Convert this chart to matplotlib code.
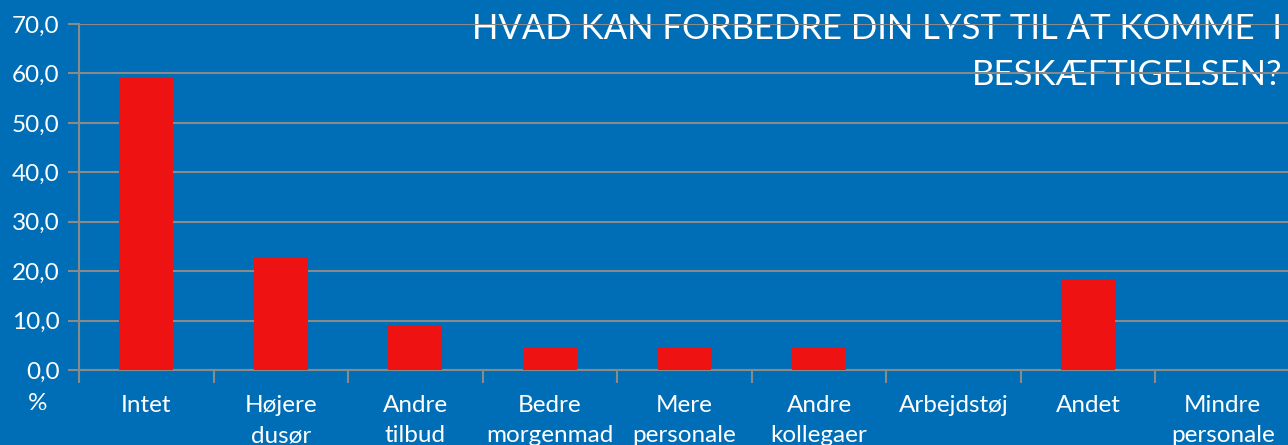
import matplotlib
matplotlib.use("Agg")
import matplotlib.pyplot as plt
import numpy as np

# Survey answers: what would improve motivation to come to work
categories = ["Intet", "Højere\ndusør", "Andre\ntilbud", "Bedre\nmorgenmad",
              "Mere\npersonale", "Andre\nkollegaer", "Arbejdstøj", "Andet",
              "Mindre\npersonale"]
percent = [59.1, 22.7, 9.1, 4.5, 4.5, 4.5, 0.0, 18.2, 0.0]
y_ticks = [0, 10, 20, 30, 40, 50, 60, 70]
y_tick_labels = ["0,0", "10,0", "20,0", "30,0", "40,0", "50,0", "60,0", "70,0"]
title = "HVAD KAN FORBEDRE DIN LYST TIL AT KOMME  I\nBESKÆFTIGELSEN?"

BG = "#006EB6"
BAR = "#EE1212"
LINE = "#8A8A8A"

plt.rcParams["font.family"] = ["Lato", "DejaVu Sans"]

fig = plt.figure(figsize=(12.88, 4.45), dpi=100, facecolor=BG)
ax = fig.add_axes([79 / 1288, 75 / 445, 1211 / 1288, (370 - 24) / 445])
ax.set_facecolor(BG)

x = np.arange(len(categories))
ax.bar(x, percent, width=0.4, color=BAR, zorder=3)

ax.set_xlim(-0.5, len(categories) - 0.5)
ax.set_ylim(0, 70)

ax.set_yticks(y_ticks)
ax.set_yticklabels(y_tick_labels)
ax.yaxis.grid(True, color=LINE, linewidth=1.5)
ax.tick_params(axis="y", colors=LINE, labelcolor="white", length=8, width=1.5,
               labelsize=17.5, pad=6)

ax.set_xticks(x)
ax.set_xticklabels(categories, linespacing=1.55)
ax.set_xticks(np.arange(-0.5, len(categories), 1.0), minor=True)
ax.tick_params(axis="x", which="major", length=0, labelcolor="white",
               labelsize=17.5, pad=18)
ax.tick_params(axis="x", which="minor", length=9, width=1.5, color=LINE)

for side in ("top", "right"):
    ax.spines[side].set_visible(False)
for side in ("left", "bottom"):
    ax.spines[side].set_color(LINE)
    ax.spines[side].set_linewidth(1.5)

fig.text(38 / 1288, 1 - 404 / 445, "%", color="white", fontsize=17.5,
         ha="center", va="center")

# Title sits underneath the gridlines
ax.text(1282 / 1288, 1 - 13 / 445, title, color="white", fontsize=25,
        ha="right", va="top", linespacing=1.55, zorder=1,
        transform=fig.transFigure, clip_on=False)

fig.savefig("out.png", dpi=100, facecolor=BG)
